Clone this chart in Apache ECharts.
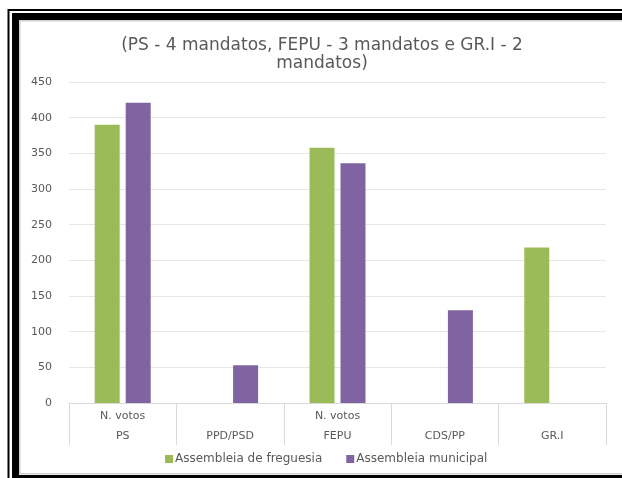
<!DOCTYPE html>
<html>
<head>
<meta charset="utf-8">
<script src="https://cdn.jsdelivr.net/npm/echarts@6/dist/echarts.min.js"></script>
<style>
html,body{margin:0;padding:0;background:#fff;}
#chart{width:622px;height:478px;}
</style>
</head>
<body>
<div id="chart"></div>
<script>
const titleText = '(PS - 4 mandatos, FEPU - 3 mandatos e GR.I - 2\nmandatos)';
const categories = ['PS', 'PPD/PSD', 'FEPU', 'CDS/PP', 'GR.I'];
const subLabels = ['N. votos', '', 'N. votos', '', ''];
const seriesNames = ['Assembleia de freguesia', 'Assembleia municipal'];
const freguesia = [390, null, 358, null, 218];
const municipal = [421, 53, 336, 130, null];
const yMin = 0, yMax = 450, yInterval = 50;

const chart = echarts.init(document.getElementById('chart'), null, {renderer: 'canvas'});
const font = 'DejaVu Sans';
chart.setOption({
  backgroundColor: '#fff',
  animation: false,
  title: {
    text: titleText,
    left: 317,
    textAlign: 'center',
    top: 32,
    textStyle: {fontFamily: font, fontSize: 17, fontWeight: 'normal', color: '#595959', lineHeight: 18}
  },
  legend: {
    top: 448,
    left: 160,
    itemWidth: 8,
    itemHeight: 8,
    itemGap: 24,
    icon: 'rect',
    textStyle: {fontFamily: font, fontSize: 12, color: '#595959', padding: [0,0,0,-3]},
    data: seriesNames
  },
  grid: {left: 69, right: 16, top: 82, bottom: 75, containLabel: false},
  xAxis: {
    type: 'category',
    data: categories,
    axisLine: {lineStyle: {color: '#d9d9d9', width: 1}},
    axisTick: {show: true, length: 42, interval: 0, lineStyle: {color: '#d9d9d9'}},
    axisLabel: {
      interval: 0,
      margin: 3,
      fontFamily: font,
      fontSize: 11,
      color: '#595959',
      lineHeight: 20,
      formatter: function (v, i) { return subLabels[i] + '\n' + v; }
    }
  },
  yAxis: {
    type: 'value',
    min: yMin, max: yMax, interval: yInterval,
    axisLine: {show: false},
    axisTick: {show: false},
    splitLine: {lineStyle: {color: '#e6e6e6', width: 1}},
    axisLabel: {fontFamily: font, fontSize: 11, color: '#595959', margin: 17}
  },
  series: [
    {name: seriesNames[0], type: 'bar', data: freguesia, barWidth: 25, barGap: '24%',
     itemStyle: {color: '#9BBB59'}},
    {name: seriesNames[1], type: 'bar', data: municipal, barWidth: 25, barGap: '24%',
     itemStyle: {color: '#8064A2'}}
  ],
  graphic: [
    {type: 'rect', silent: true, shape: {x: 8.5, y: 10, width: 700, height: 700},
     style: {fill: 'none', stroke: '#000', lineWidth: 2}},
    {type: 'rect', silent: true, shape: {x: 15.5, y: 16.5, width: 700, height: 462},
     style: {fill: 'none', stroke: '#000', lineWidth: 7}},
    {type: 'rect', silent: true, shape: {x: 19.75, y: 20.75, width: 700, height: 453},
     style: {fill: 'none', stroke: '#d0d0d0', lineWidth: 1.5}}
  ]
});
</script>
</body>
</html>
